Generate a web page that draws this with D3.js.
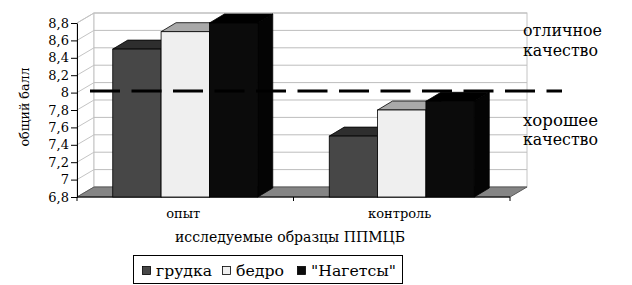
<!DOCTYPE html>
<html>
<head>
<meta charset="utf-8">
<script src="https://cdn.jsdelivr.net/npm/d3@7"></script>
<style>
  body { margin: 0; background: #fff; }
  svg text { font-family: "DejaVu Serif", serif !important; fill: #000; }
</style>
</head>
<body>
<div id="chart"></div>
<script>
/* 3D column chart: общий балл по образцам ППМЦБ */

const categories = ["опыт", "контроль"];
const series = ["грудка", "бедро", "\"Нагетсы\""];
const grudka = [8.5, 7.5];
const bedro = [8.7, 7.8];
const nagetsy = [8.8, 7.9];
const yTicks = [6.8, 7, 7.2, 7.4, 7.6, 7.8, 8, 8.2, 8.4, 8.6, 8.8];
const yTickLabels = ["6,8", "7", "7,2", "7,4", "7,6", "7,8", "8", "8,2", "8,4", "8,6", "8,8"];
const threshold = 8;

const seriesValues = [grudka, bedro, nagetsy];
const data = [];
categories.forEach((c, ci) => {
    series.forEach((s, si) => data.push({ cat: c, key: s, value: seriesValues[si][ci] }));
});

const width = 632, height = 285;
const front = { left: 77, right: 510, top: 23, bottom: 197 };
const depth = { dx: 17, dy: -10 };     // walls
const bdepth = { dx: 15, dy: -9 };     // bars

const faces = {
    "грудка":      { front: "#474747", top: "#2e2e2e", side: "#333" },
    "бедро":       { front: "#efefef", top: "#a9a9a9", side: "#cfcfcf" },
    "\"Нагетсы\"": { front: "#0b0b0b", top: "#000", side: "#040404" }
};

const svg = d3.select("#chart")
    .append("svg")
    .attr("width", width)
    .attr("height", height)
    .attr("viewBox", [0, 0, width, height]);

let y = d3.scaleLinear()
    .domain([yTicks[0], yTicks[yTicks.length - 1]])
    .range([front.bottom, front.top]);

let x = d3.scaleBand()
    .domain(categories)
    .range([front.left, front.right]);

let xs = d3.scaleBand()
    .domain(series)
    .range([-72.5, 72.5]);

const pts = a => a.map(p => p.join(",")).join(" ");

// side wall
svg.append("polygon")
    .attr("points", pts([[front.left, front.top], [front.left + depth.dx, front.top + depth.dy],
        [front.left + depth.dx, front.bottom + depth.dy], [front.left, front.bottom]]))
    .attr("fill", "#fff")
    .attr("stroke", "#c4c4c4");

// back wall
svg.append("rect")
    .attr("x", front.left + depth.dx)
    .attr("y", front.top + depth.dy)
    .attr("width", front.right - front.left)
    .attr("height", front.bottom - front.top)
    .attr("fill", "#fff")
    .attr("stroke", "#c4c4c4");

svg.append("g")
    .selectAll("line.grid")
    .data(yTicks)
    .join("line")
    .attr("x1", front.left + depth.dx)
    .attr("x2", front.right + depth.dx)
    .attr("y1", d => y(d) + depth.dy)
    .attr("y2", d => y(d) + depth.dy)
    .attr("stroke", "#bdbdbd");

svg.append("g")
    .selectAll("line.side")
    .data(yTicks)
    .join("line")
    .attr("x1", front.left)
    .attr("x2", front.left + depth.dx)
    .attr("y1", d => y(d))
    .attr("y2", d => y(d) + depth.dy)
    .attr("stroke", "#c4c4c4");

// floor
svg.append("polygon")
    .attr("points", pts([[front.left, front.bottom], [front.right, front.bottom],
        [front.right + depth.dx, front.bottom + depth.dy], [front.left + depth.dx, front.bottom + depth.dy]]))
    .attr("fill", "#858585")
    .attr("stroke", "#5a5a5a");

svg.append("line")
    .attr("x1", front.left).attr("x2", front.right)
    .attr("y1", front.bottom).attr("y2", front.bottom)
    .attr("stroke", "#000");

// x ticks on band edges
const xEdges = categories.map(c => x(c)).concat([x.range()[1]]);
svg.append("g")
    .selectAll("line")
    .data(xEdges)
    .join("line")
    .attr("x1", d => d).attr("x2", d => d)
    .attr("y1", front.bottom).attr("y2", front.bottom + 4)
    .attr("stroke", "#000");

// y axis
svg.append("g")
    .attr("transform", `translate(${front.left},0)`)
    .call(d3.axisLeft(y).tickValues(yTicks).tickFormat((d, i) => yTickLabels[i]).tickSize(6).tickSizeOuter(0))
    .attr("font-family", null)
    .call(g => g.select(".domain").attr("stroke", "#000"))
    .call(g => g.selectAll("text")
        .attr("x", -8)
        .style("font-size", "13px"));

// bars
let bar = svg.selectAll(".bar")
    .data(data)
    .join("g")
    .attr("class", "bar");

bar.each(function(d) {
    const g = d3.select(this);
    const bw = xs.bandwidth();
    const bx = x(d.cat) + x.bandwidth() / 2 + xs(d.key);
    const yv = y(d.value), y0 = y(yTicks[0]);
    const f = faces[d.key];
    g.append("polygon")
        .attr("points", pts([[bx + bw, yv], [bx + bw + bdepth.dx, yv + bdepth.dy],
            [bx + bw + bdepth.dx, y0 + bdepth.dy], [bx + bw, y0]]))
        .attr("fill", f.side).attr("stroke", "#000").attr("stroke-width", 0.8);
    g.append("polygon")
        .attr("points", pts([[bx, yv], [bx + bdepth.dx, yv + bdepth.dy],
            [bx + bw + bdepth.dx, yv + bdepth.dy], [bx + bw, yv]]))
        .attr("fill", f.top).attr("stroke", "#000").attr("stroke-width", 0.8);
    g.append("rect")
        .attr("x", bx).attr("y", yv)
        .attr("width", bw).attr("height", y0 - yv)
        .attr("fill", f.front).attr("stroke", "#000").attr("stroke-width", 0.8);
});

// threshold dashed line
svg.append("line")
    .attr("x1", 90).attr("x2", 562)
    .attr("y1", y(threshold) - 1.5).attr("y2", y(threshold) - 1.5)
    .attr("stroke", "#000")
    .attr("stroke-width", 3)
    .attr("stroke-dasharray", "30,11.5");

// category labels
svg.append("g")
    .selectAll("text")
    .data(categories)
    .join("text")
    .attr("x", d => x(d) + x.bandwidth() / 2 - 2)
    .attr("y", 218)
    .attr("text-anchor", "middle")
    .style("font-size", "13px")
    .text(d => d);

svg.append("text")
    .attr("x", 290).attr("y", 242)
    .attr("text-anchor", "middle")
    .attr("textLength", 230).attr("lengthAdjust", "spacingAndGlyphs")
    .style("font-size", "14px")
    .text("исследуемые образцы ППМЦБ");

svg.append("text")
    .attr("transform", "translate(29,107) rotate(-90)")
    .attr("text-anchor", "middle")
    .attr("textLength", 79).attr("lengthAdjust", "spacingAndGlyphs")
    .style("font-size", "13px")
    .text("общий балл");

// annotations
const notes = [["отличное", 36, 79], ["качество", 56, 75], ["хорошее", 126, 75], ["качество", 145, 75]];
svg.append("g")
    .selectAll("text")
    .data(notes)
    .join("text")
    .attr("x", 523).attr("y", d => d[1])
    .attr("textLength", d => d[2]).attr("lengthAdjust", "spacingAndGlyphs")
    .style("font-size", "16px")
    .text(d => d[0]);

// legend
const legend = svg.append("g");
legend.append("rect")
    .attr("x", 133.5).attr("y", 255.5)
    .attr("width", 269).attr("height", 28)
    .attr("fill", "#fff").attr("stroke", "#000");

const legendX = [142, 222, 297];
const legendW = [56, 48, 85];
series.forEach((s, i) => {
    legend.append("rect")
        .attr("x", legendX[i] + 0.5).attr("y", 266.5)
        .attr("width", 8).attr("height", 8)
        .attr("fill", faces[s].front)
        .attr("stroke", "#000").attr("stroke-width", 0.8);
    legend.append("text")
        .attr("x", legendX[i] + 14).attr("y", 276)
        .attr("textLength", legendW[i]).attr("lengthAdjust", "spacingAndGlyphs")
        .style("font-size", "15px")
        .text(s);
});
</script>
</body>
</html>
